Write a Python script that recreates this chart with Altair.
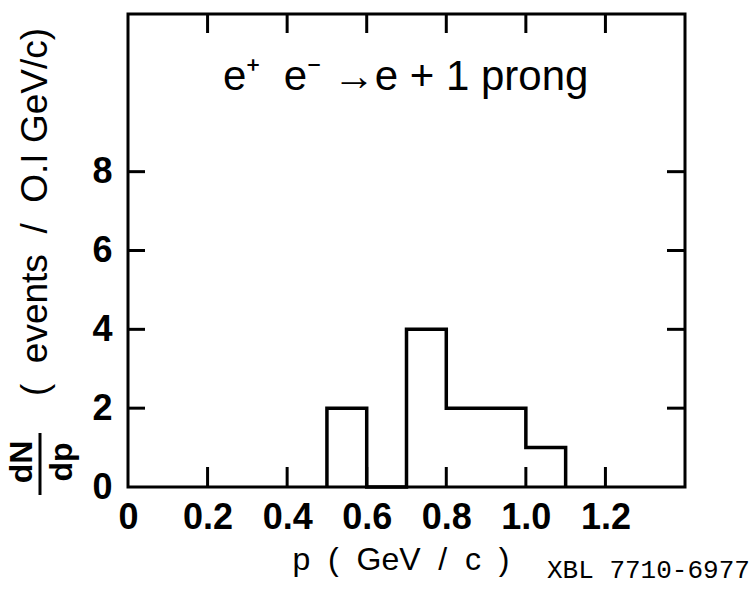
import altair as alt
import pandas as pd

# ---- data ----
bin_edges = [0.5, 0.6, 0.7, 0.8, 0.9, 1.0, 1.1]
counts = [2, 0, 4, 2, 2, 1]
x_ticks = [0.2, 0.4, 0.6, 0.8, 1.0, 1.2]
x_labels = [0, 0.2, 0.4, 0.6, 0.8, 1.0, 1.2]
y_ticks = [2, 4, 6, 8]
y_labels = [0, 2, 4, 6, 8]
NB = "\u00a0"
reaction = f"e\u207a{NB}{NB}e\u207b{NB}\u2192e + 1 prong"
x_title = f"p{NB}{NB}({NB}{NB}GeV{NB}{NB}/{NB}{NB}c{NB}{NB})"
y_title = f"({NB}{NB}events{NB}{NB}/{NB}{NB}O.I{NB}GeV/c)"
ref_code = "XBL 7710-6977"

W, H = 557, 473
DIGIT_FONT = "Liberation Sans"
TEXT_FONT = "Liberation Sans"

# step outline points
pts_x = [bin_edges[0]] + bin_edges[:-1] + [bin_edges[-1]]
pts_y = [0] + counts + [0]
step_df = pd.DataFrame({"p": pts_x, "n": pts_y, "i": list(range(len(pts_x)))})

xscale = alt.Scale(domain=[0, 1.4], nice=False, zero=False)
yscale = alt.Scale(domain=[0, 12], nice=False)

hist = alt.Chart(step_df).mark_line(
    interpolate="step-after", color="black", strokeWidth=3.5, strokeJoin="miter"
).encode(
    x=alt.X("p:Q", scale=xscale,
            axis=alt.Axis(values=x_labels, title=None, ticks=False, domain=False, grid=False,
                          labelFont=DIGIT_FONT, labelFontWeight="bold", labelFontSize=36,
                          labelColor="black", labelPadding=13, labelFlush=False,
                          labelExpr="datum.value == 0 ? '0' : format(datum.value, '.1f')")),
    y=alt.Y("n:Q", scale=yscale,
            axis=alt.Axis(values=y_labels, title=None, ticks=False, domain=False, grid=False,
                          labelFont=DIGIT_FONT, labelFontWeight="bold", labelFontSize=36,
                          labelColor="black", labelPadding=16, labelFlush=False)),
    order="i:Q",
)

xt = pd.DataFrame({"p": x_ticks})
yt = pd.DataFrame({"n": y_ticks})

top_ticks = alt.Chart(xt).mark_rule(color="black", strokeWidth=3).encode(
    x=alt.X("p:Q", scale=xscale), y=alt.value(0), y2=alt.value(19))
bot_ticks = alt.Chart(xt).mark_rule(color="black", strokeWidth=3).encode(
    x=alt.X("p:Q", scale=xscale), y=alt.value(H), y2=alt.value(H - 20))
left_ticks = alt.Chart(yt).mark_rule(color="black", strokeWidth=3).encode(
    y=alt.Y("n:Q", scale=yscale), x=alt.value(0), x2=alt.value(17))
right_ticks = alt.Chart(yt).mark_rule(color="black", strokeWidth=3).encode(
    y=alt.Y("n:Q", scale=yscale), x=alt.value(W), x2=alt.value(W - 18))


def label(txt, x, y, size, font=TEXT_FONT, weight="normal", angle=0, align="left",
          baseline="alphabetic"):
    return alt.Chart(pd.DataFrame({"t": [txt]})).mark_text(
        font=font, fontSize=size, fontWeight=weight, angle=angle, align=align,
        baseline=baseline, color="black"
    ).encode(text="t:N", x=alt.value(x), y=alt.value(y))


reaction_txt = label(reaction, 95, 76, 42)
xtitle_txt = label(x_title, 273, 556, 32, align="center")
ytitle_txt = label(y_title, -92, 198, 37, angle=270, align="center", baseline="middle")
dn_txt = label("dN", -106, 448, 32, weight="bold", angle=270, align="center", baseline="middle")
dp_txt = label("dp", -66, 448, 32, weight="bold", angle=270, align="center", baseline="middle")
frac_line = alt.Chart(pd.DataFrame({"k": [0]})).mark_rule(color="black", strokeWidth=3).encode(
    x=alt.value(-88), y=alt.value(419), y2=alt.value(481))
code_txt = label(ref_code, 419, 564, 26, font="Liberation Mono")

chart = alt.layer(
    top_ticks, bot_ticks, left_ticks, right_ticks, hist,
    reaction_txt, xtitle_txt, ytitle_txt, dn_txt, dp_txt, frac_line, code_txt
).properties(
    width=W, height=H,
    autosize=alt.AutoSizeParams(type="none"),
    padding={"left": 128, "top": 14, "right": 71, "bottom": 108},
    background="white",
).configure_view(stroke="black", strokeWidth=3)

chart.save("out.html", embed_options={"renderer": "svg", "actions": False})
